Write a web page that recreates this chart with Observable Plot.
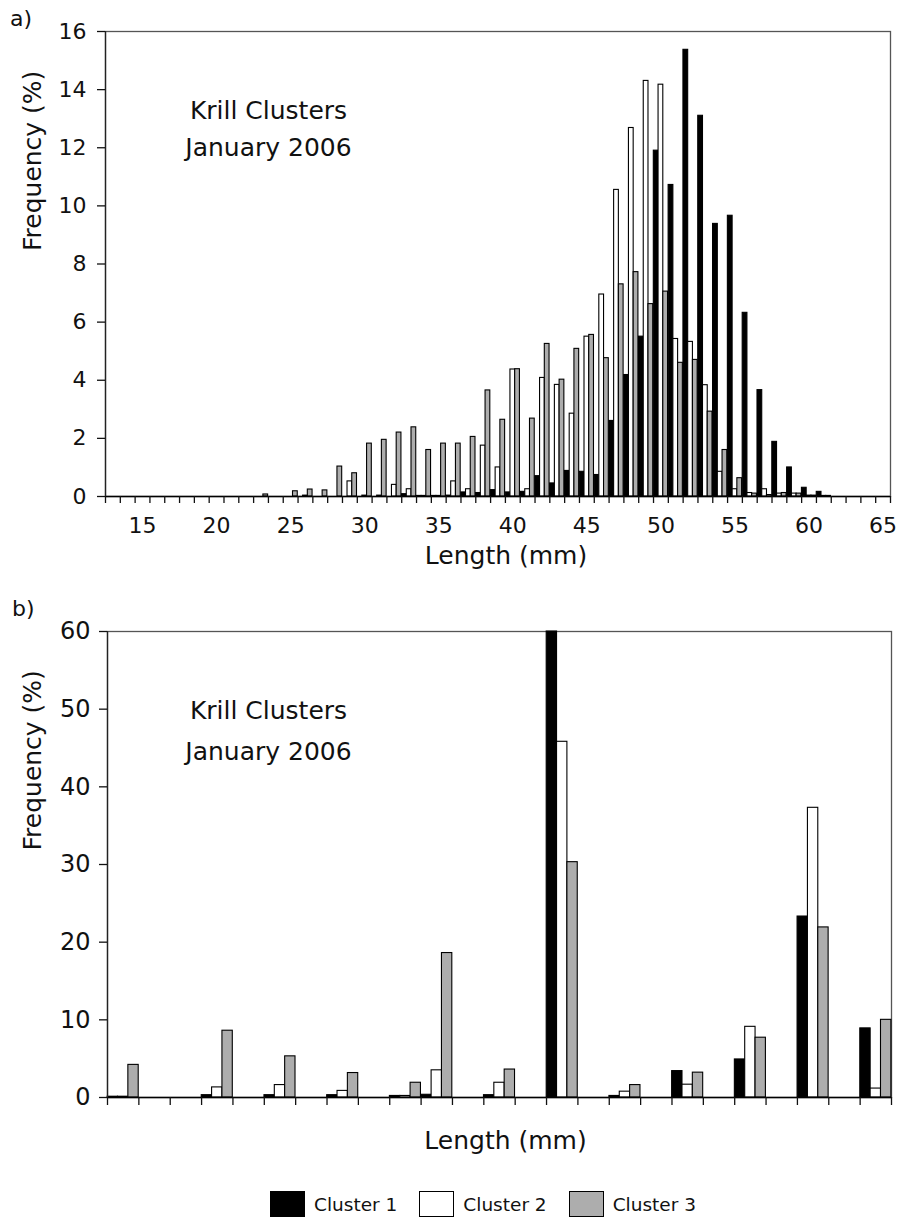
<!DOCTYPE html>
<html>
<head>
<meta charset="utf-8">
<script src="https://cdn.jsdelivr.net/npm/d3@7"></script>
<script src="https://cdn.jsdelivr.net/npm/@observablehq/plot@0.6"></script>
<style>
  body { margin: 0; background: #fff; font-family: "DejaVu Sans", sans-serif; color: #111; }
  #wrap { position: relative; width: 897px; height: 1224px; overflow: hidden; }
  .panel { position: absolute; left: 0; }
  .tag { position: absolute; font-size: 22px; }
  #legend { position: absolute; left: 270px; top: 1191px; display: flex; align-items: center; font-size: 18.5px; }
  #legend .item { display: flex; align-items: center; margin-right: 22px; }
  #legend .sw { width: 35px; height: 26px; box-sizing: border-box; border: 1.3px solid #000; margin-right: 9px; }
</style>
</head>
<body>
<div id="wrap">
  <div class="tag" style="left:10px; top:6px;">a)</div>
  <div id="pa" class="panel" style="top:0px;"></div>
  <div class="tag" style="left:12px; top:596px;">b)</div>
  <div id="pb" class="panel" style="top:580px;"></div>
  <div id="legend"></div>
</div>
<script>
// ---------- shared ----------
const clusters = ["Cluster 1", "Cluster 2", "Cluster 3"];
const clusterFills = ["#000000", "#ffffff", "#adadad"];
const annotationLines = ["Krill Clusters", "January 2006"];
const yTitle = "Frequency (%)";
const xTitle = "Length (mm)";

// ---------- panel a: length-frequency by 1 mm ----------
const lengthsA = [13,14,15,16,17,18,19,20,21,22,23,24,25,26,27,28,29,30,31,32,33,34,35,36,37,38,39,
                  40,41,42,43,44,45,46,47,48,49,50,51,52,53,54,55,56,57,58,59,60,61,62,63,64,65];
const cluster1A = [0,0,0,0,0,0,0,0,0,0,0,0,0,0,0,0,0,0,0,0,
                   0.08,0.02,0.02,0.03,0.14,0.12,0.22,0.14,0.16,0.7,0.45,0.88,0.85,0.74,
                   2.6,4.18,5.5,11.9,10.72,15.37,13.1,9.38,9.66,6.32,3.66,1.88,1.0,0.3,0.16,
                   0,0,0,0];
const cluster2A = [0,0,0,0,0,0,0,0,0,0,0,0,0,
                   0.03,0,0,0.52,0.03,0.03,0.4,0.25,0.02,0.02,0.52,0.25,1.75,1.0,4.37,0.25,
                   4.08,3.84,2.85,5.5,6.95,10.55,12.68,14.3,14.17,5.42,5.32,3.83,0.85,0.25,
                   0.12,0.25,0.1,0.1,0.03,0.02,
                   0,0,0,0];
const cluster3A = [0,0,0,0,0,0,0,0,0,0,
                   0.07,0,0.18,0.24,0.21,1.03,0.8,1.82,1.95,2.2,2.38,1.6,1.82,1.82,2.05,3.65,
                   2.64,4.38,2.68,5.25,4.02,5.08,5.56,4.76,7.3,7.72,6.62,7.05,4.6,4.7,2.92,
                   1.6,0.63,0.1,0.05,0.12,0.1,0.03,0.02,
                   0,0,0,0];
const yTicksA = [0,2,4,6,8,10,12,14,16];
const lengthLabels = [15,20,25,30,35,40,45,50,55,60,65];

// ---------- panel b: grouped classes ----------
const slotsB = [1,4,6,8,10,11,13,15,17,19,21,23,25];
const cluster1B = [0.1,0.3,0.3,0.3,0.2,0.35,0.3,60,0.2,3.4,4.9,23.3,8.9];
const cluster2B = [0.1,1.3,1.6,0.85,0.2,3.5,1.9,45.8,0.75,1.65,9.1,37.3,1.15];
const cluster3B = [4.2,8.6,5.3,3.15,1.9,18.6,3.6,30.3,1.6,3.2,7.7,21.9,10.0];
const yTicksB = [0,10,20,30,40,50,60];

function buildRows(positions, series) {
  const rows = [];
  positions.forEach((p, i) => series.forEach((s, j) => rows.push({pos: p, j, cluster: clusters[j], value: s[i]})));
  return rows;
}

const rowsA = buildRows(lengthsA, [cluster1A, cluster2A, cluster3A]);
const rowsB = buildRows(slotsB, [cluster1B, cluster2B, cluster3B]);

const font = "DejaVu Sans";

function bars(rows, barW) {
  return Plot.rect(rows, {
    x1: d => d.pos - 1.5 * barW + d.j * barW,
    x2: d => d.pos - 0.5 * barW + d.j * barW,
    y1: d => 0,
    y2: "value",
    fill: "cluster",
    stroke: "#000",
    strokeWidth: 1.1
  });
}

// Panel a
const xDomA = [lengthsA[0] - 0.5, lengthsA[lengthsA.length - 1] + 0.5];
const boundariesA = d3.range(xDomA[0], xDomA[1] + 0.01, 1);
const plotA = Plot.plot({
  width: 897, height: 580,
  marginTop: 31, marginBottom: 84, marginLeft: 105, marginRight: 7,
  style: {fontFamily: font, fontSize: "22px", color: "#111", background: "transparent", overflow: "visible"},
  x: {type: "linear", domain: xDomA},
  y: {domain: [0, 16]},
  color: {domain: clusters, range: clusterFills},
  marks: [
    Plot.frame({stroke: "#555", strokeWidth: 1.3}),
    bars(rowsA, 0.32),
    Plot.ruleY([0], {stroke: "#000", strokeWidth: 1.5}),
    Plot.ruleX([xDomA[0]], {stroke: "#222", strokeWidth: 1.3}),
    Plot.axisY({ticks: yTicksA, tickSize: 8, tickPadding: 11, fontSize: 22, label: null, strokeWidth: 1.3}),
    Plot.axisX({ticks: lengthLabels, tickSize: 0, tickPadding: 21, fontSize: 22, label: null}),
    Plot.axisX({ticks: boundariesA, tickSize: 7, tickFormat: () => "", label: null, strokeWidth: 1.3}),
    Plot.text([yTitle], {text: d => d, frameAnchor: "left", rotate: -90, dx: -73, dy: -13, fontSize: 25}),
    Plot.text([xTitle], {text: d => d, frameAnchor: "bottom", dx: 8, dy: 67, fontSize: 25}),
    Plot.text([annotationLines.join("\n")], {text: d => d, frameAnchor: "top-left", dx: 163, dy: 94,
      textAnchor: "middle", lineAnchor: "middle", lineHeight: 1.48, fontSize: 25})
  ]
});
document.getElementById("pa").appendChild(plotA);

// Panel b
const xDomB = [0.5, 25.5];
const boundariesB = d3.range(xDomB[0], xDomB[1] + 0.01, 1);
const plotB = Plot.plot({
  width: 897, height: 590,
  marginTop: 51, marginBottom: 73, marginLeft: 107, marginRight: 6,
  style: {fontFamily: font, fontSize: "24px", color: "#111", background: "transparent", overflow: "visible"},
  x: {type: "linear", domain: xDomB},
  y: {domain: [0, 60]},
  color: {domain: clusters, range: clusterFills},
  marks: [
    Plot.frame({stroke: "#555", strokeWidth: 1.3}),
    bars(rowsB, 0.33),
    Plot.ruleY([0], {stroke: "#000", strokeWidth: 1.5}),
    Plot.ruleX([xDomB[0]], {stroke: "#222", strokeWidth: 1.3}),
    Plot.axisY({ticks: yTicksB, tickSize: 8, tickPadding: 9, fontSize: 24, label: null, strokeWidth: 1.3}),
    Plot.axisX({ticks: boundariesB, tickSize: 8, tickFormat: () => "", label: null, strokeWidth: 1.3}),
    Plot.text([yTitle], {text: d => d, frameAnchor: "left", rotate: -90, dx: -75, dy: -14, fontSize: 25}),
    Plot.text([xTitle], {text: d => d, frameAnchor: "bottom", dx: 6, dy: 51, fontSize: 25}),
    Plot.text([annotationLines.join("\n")], {text: d => d, frameAnchor: "top-left", dx: 161, dy: 95,
      textAnchor: "middle", lineAnchor: "middle", lineHeight: 1.65, fontSize: 25})
  ]
});
document.getElementById("pb").appendChild(plotB);

// Legend
const legend = document.getElementById("legend");
clusters.forEach((c, i) => {
  const item = document.createElement("div");
  item.className = "item";
  const sw = document.createElement("div");
  sw.className = "sw";
  sw.style.background = clusterFills[i];
  const label = document.createElement("span");
  label.textContent = c;
  item.appendChild(sw);
  item.appendChild(label);
  legend.appendChild(item);
});
</script>
</body>
</html>
